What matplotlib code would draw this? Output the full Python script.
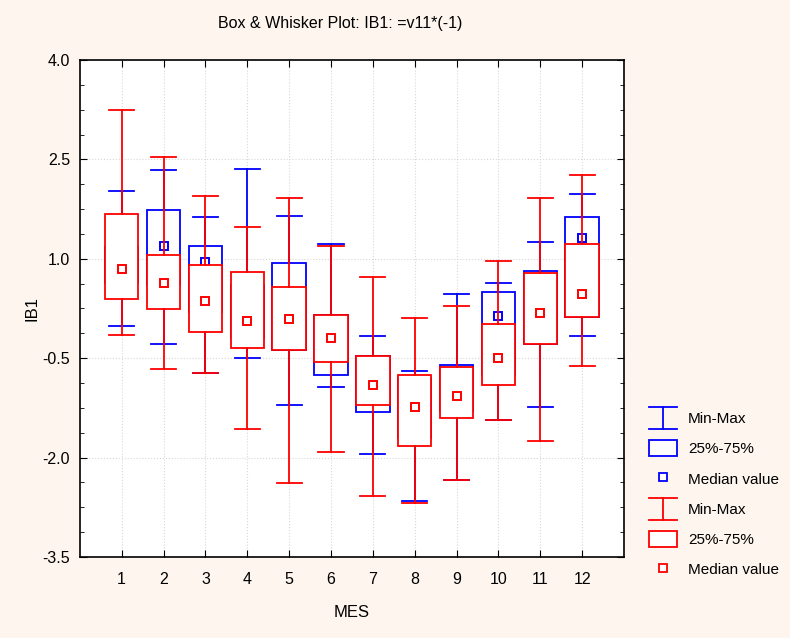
import matplotlib
matplotlib.use('Agg')
import numpy as np
import matplotlib.pyplot as plt
from matplotlib.ticker import FixedLocator
from matplotlib.lines import Line2D
from matplotlib.patches import Rectangle
from matplotlib.legend_handler import HandlerBase

plt.rcParams['font.family'] = ['Liberation Sans', 'DejaVu Sans']

months = [1, 2, 3, 4, 5, 6, 7, 8, 9, 10, 11, 12]

# first group (blue)
blue_min = [-0.01, -0.29, -0.73, -0.49, -1.21, -0.94, -1.95, -2.65, -2.34, -1.44, -1.23, -0.16]
blue_q1 = [0.63, 0.60, 0.20, -0.20, -0.37, -0.76, -1.31, -1.70, -1.30, -0.75, -0.29, 0.12]
blue_med = [0.90, 1.20, 0.95, 0.20, 0.30, -0.30, -1.00, -1.00, -0.90, 0.13, 0.25, 1.31]
blue_q3 = [1.18, 1.74, 1.20, 0.60, 0.93, 0.15, -0.46, -0.80, -0.61, 0.50, 0.81, 1.63]
blue_max = [2.03, 2.34, 1.63, 2.35, 1.65, 1.22, -0.16, -0.70, 0.47, 0.64, 1.26, 1.98]

# second group (red)
red_min = [-0.15, -0.67, -0.73, -1.57, -2.39, -1.91, -2.58, -2.69, -2.34, -1.44, -1.75, -0.62]
red_q1 = [0.40, 0.24, -0.10, -0.35, -0.37, -0.56, -1.21, -1.83, -1.41, -0.90, -0.29, 0.12]
red_med = [0.85, 0.63, 0.36, 0.06, 0.09, -0.20, -0.90, -1.23, -1.07, -0.49, 0.18, 0.47]
red_q3 = [1.67, 1.06, 0.90, 0.80, 0.58, 0.15, -0.46, -0.76, -0.64, 0.02, 0.78, 1.23]
red_max = [3.25, 2.53, 1.94, 1.48, 1.91, 1.19, 0.73, 0.11, 0.28, 0.96, 1.92, 2.26]

y_ticks = [-3.5, -2.0, -0.5, 1.0, 2.5, 4.0]


def make_stats(lo, q1, med, q3, hi):
    return [dict(whislo=a, q1=b, med=c, q3=d, whishi=e, fliers=[])
            for a, b, c, d, e in zip(lo, q1, med, q3, hi)]


class HandlerMinMax(HandlerBase):
    """ I-beam symbol for the Min-Max entries"""
    def create_artists(self, legend, orig_handle, xdescent, ydescent,
                       width, height, fontsize, trans):
        c = orig_handle.get_color()
        x0, y0 = -xdescent, -ydescent - 2
        h = height + 4
        segs = [([x0, x0 + width], [y0, y0]),
                ([x0, x0 + width], [y0 + h, y0 + h]),
                ([x0 + width / 2, x0 + width / 2], [y0, y0 + h])]
        return [Line2D(xs, ys, color=c, lw=1.3, transform=trans) for xs, ys in segs]


bg = '#fdf5ee'
fig = plt.figure(figsize=(7.9, 6.38), dpi=100, facecolor=bg)
ax = fig.add_axes([0.101, 0.127, 0.689, 0.779])
ax.set_facecolor('white')

groups = [(make_stats(blue_min, blue_q1, blue_med, blue_q3, blue_max), blue_med, 'blue', 2),
          (make_stats(red_min, red_q1, red_med, red_q3, red_max), red_med, 'red', 4)]
for stats, med, color, z in groups:
    ax.bxp(stats, positions=months, widths=0.8, capwidths=0.6, patch_artist=True,
           showfliers=False, manage_ticks=False, zorder=z,
           boxprops=dict(facecolor='white', edgecolor=color, linewidth=1.3),
           whiskerprops=dict(color=color, linewidth=1.3),
           capprops=dict(color=color, linewidth=1.3),
           medianprops=dict(visible=False))
    ax.plot(months, med, ls='none', marker='s', ms=6.3, mfc='white', mec=color,
            mew=1.4, zorder=z + 0.5)

ax.set_xlim(0, 13)
ax.set_ylim(-3.5, 4.0)
ax.xaxis.set_major_locator(FixedLocator(months))
ax.yaxis.set_major_locator(FixedLocator(y_ticks))
ax.yaxis.set_minor_locator(FixedLocator(np.arange(-3.5, 4.01, 0.375)))
ax.set_yticklabels(['%.1f' % v for v in y_ticks])
ax.tick_params(which='both', direction='in', top=True, right=True, labelsize=11.5)
ax.tick_params(which='major', length=5)
ax.tick_params(which='minor', length=3)
ax.tick_params(axis='x', pad=11)
ax.tick_params(axis='y', pad=7)
ax.grid(True, which='major', color='#d8d8d8', linestyle=':', linewidth=0.8)
ax.set_axisbelow(True)
for s in ax.spines.values():
    s.set_linewidth(1.2)

ax.set_xlabel('MES', fontsize=12, labelpad=13)
ax.set_ylabel('IB1', fontsize=12, labelpad=2)
fig.text(0.43, 0.963, 'Box & Whisker Plot: IB1: =v11*(-1)', ha='center', va='center', fontsize=11.5)

handles = [Line2D([], [], color='blue'),
           Rectangle((0, 0), 1, 1, facecolor='white', edgecolor='blue', lw=1.3),
           Line2D([], [], ls='none', marker='s', ms=6, mfc='white', mec='blue', mew=1.3),
           Line2D([], [], color='red'),
           Rectangle((0, 0), 1, 1, facecolor='white', edgecolor='red', lw=1.3),
           Line2D([], [], ls='none', marker='s', ms=6, mfc='white', mec='red', mew=1.3)]
labels = ['Min-Max', '25%-75%', 'Median value', 'Min-Max', '25%-75%', 'Median value']
fig.legend(handles, labels, loc='upper left', bbox_to_anchor=(0.81, 0.372),
           borderaxespad=0.2, frameon=False, fontsize=11, handlelength=1.85,
           handleheight=1.25, labelspacing=0.92, handletextpad=0.7,
           handler_map={handles[0]: HandlerMinMax(), handles[3]: HandlerMinMax()})

fig.savefig('out.png', dpi=100, facecolor=bg)
